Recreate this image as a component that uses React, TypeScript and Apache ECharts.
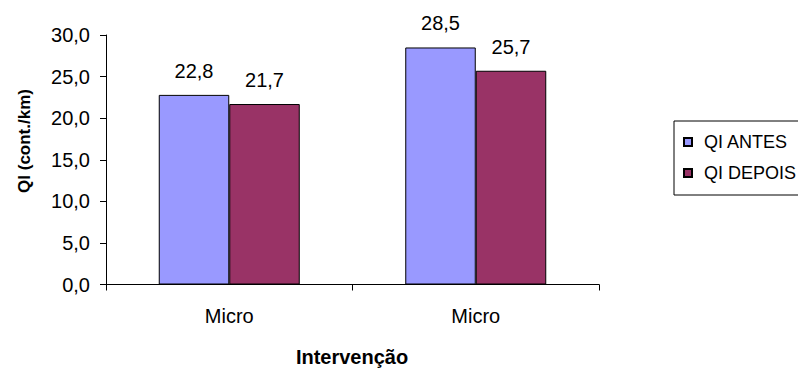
import React, { useEffect, useRef } from "react";
import * as echarts from "echarts";

const categories = ["Micro", "Micro"];
const antes = [22.8, 28.5];
const depois = [21.7, 25.7];
const seriesNames = ["QI ANTES", "QI DEPOIS"];
const yTitle = "QI (cont./km)";
const xTitle = "Intervenção";

const fmt = (v: number) => v.toFixed(1).replace(".", ",");
const FONT = "'Liberation Sans', Arial, sans-serif";

export default function App() {
  const ref = useRef<HTMLDivElement>(null);
  useEffect(() => {
    if (!ref.current) return;
    const chart = echarts.init(ref.current, null, { renderer: "svg" });
    const labelStyle = {
      show: true,
      position: "top" as const,
      distance: 14,
      color: "#000",
      fontSize: 20,
      fontFamily: FONT,
      formatter: (p: any) => fmt(p.value),
    };
    chart.setOption({
      animation: false,
      backgroundColor: "#fff",
      textStyle: { fontFamily: FONT },
      grid: { left: 106, right: 199, top: 35, bottom: 84.5, containLabel: false },
      legend: {
        orient: "vertical",
        left: 674,
        top: 121,
        padding: [12, 12, 13, 9],
        itemGap: 13,
        itemWidth: 8,
        itemHeight: 8,
        borderColor: "#000",
        borderWidth: 1,
        icon: "rect",
        textStyle: { fontSize: 18, color: "#000", fontFamily: FONT, padding: [0, 0, 0, 7] },
        data: seriesNames,
      },
      xAxis: {
        type: "category",
        data: categories,
        axisLine: { lineStyle: { color: "#000", width: 1 } },
        axisTick: { show: true, length: 6, lineStyle: { color: "#000" } },
        axisLabel: { color: "#000", fontSize: 20, margin: 21, fontFamily: FONT },
      },
      yAxis: {
        type: "value",
        min: 0,
        max: 30,
        interval: 5,
        splitLine: { show: false },
        axisLine: { show: true, lineStyle: { color: "#000", width: 1 } },
        axisTick: { show: true, length: 6, lineStyle: { color: "#000" } },
        axisLabel: { color: "#000", fontSize: 20, margin: 16, fontFamily: FONT, formatter: (v: number) => fmt(v) },
      },
      graphic: [
        {
          type: "text",
          x: 24,
          y: 141,
          rotation: Math.PI / 2,
          style: {
            text: yTitle,
            fontSize: 17,
            fontWeight: "bold",
            fontFamily: FONT,
            fill: "#000",
            textAlign: "center",
            textVerticalAlign: "middle",
          },
        },
        {
          type: "text",
          x: 352,
          y: 357,
          style: {
            text: xTitle,
            fontSize: 20,
            fontWeight: "bold",
            fontFamily: FONT,
            fill: "#000",
            textAlign: "center",
            textVerticalAlign: "middle",
          },
        },
      ],
      series: [
        {
          name: seriesNames[0],
          type: "bar",
          data: antes,
          barWidth: 70.5,
          barGap: "0%",
          itemStyle: { color: "#9999FF", borderColor: "#000", borderWidth: 1 },
          label: labelStyle,
        },
        {
          name: seriesNames[1],
          type: "bar",
          data: depois,
          barWidth: 70.5,
          barGap: "0%",
          itemStyle: { color: "#993366", borderColor: "#000", borderWidth: 1 },
          label: labelStyle,
        },
      ],
    });
    return () => chart.dispose();
  }, []);
  return (
    <div
      ref={ref}
      style={{ position: "fixed", left: 0, top: 0, width: 798, height: 369, background: "#fff" }}
    />
  );
}
